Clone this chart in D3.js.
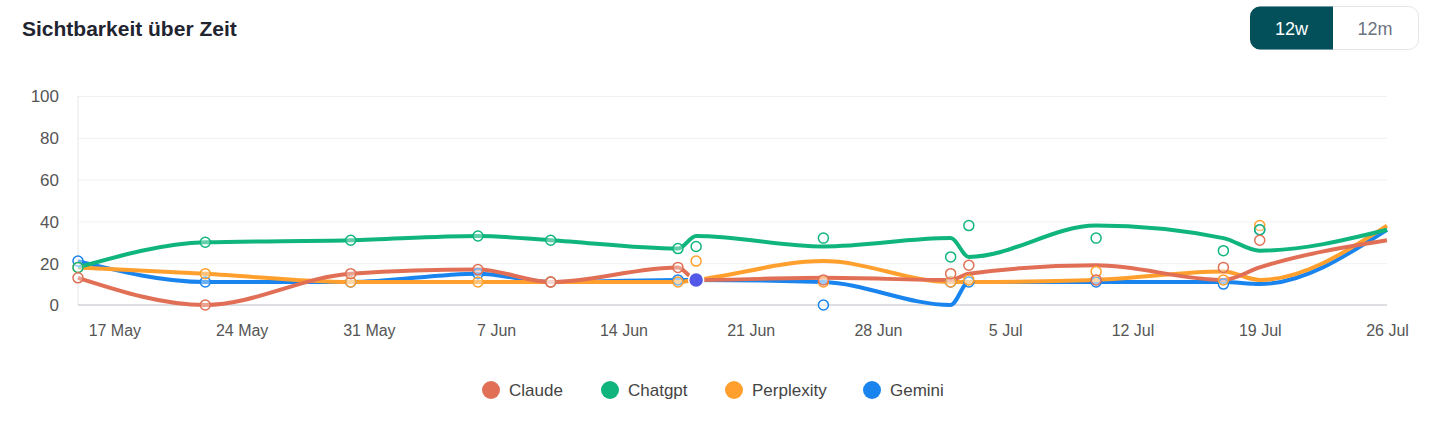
<!DOCTYPE html>
<html><head><meta charset="utf-8">
<script src="https://cdn.jsdelivr.net/npm/d3@7"></script>
<style>
body{margin:0;background:#fff;font-family:"Helvetica Neue",Arial,"Liberation Sans",sans-serif;}
</style></head>
<body><svg id="chart" width="1438" height="428"></svg>
<script>
const dates = ["2024-05-15","2024-05-22","2024-05-30","2024-06-06","2024-06-10","2024-06-17","2024-06-18","2024-06-25","2024-07-02","2024-07-03","2024-07-10","2024-07-17","2024-07-19","2024-07-26"];
const claude     = [13, 0, 15, 17, 11, 18, 12, 13, 12, 15, 19, 12, 18, 31];
const chatgpt    = [18, 30, 31, 33, 31, 27, 33, 28, 32, 23, 38, 32, 26, 36];
const perplexity = [18, 15, 11, 11, 11, 11, 12, 21, 11, 11, 12, 16, 12, 38];
const gemini     = [21, 11, 11, 15, 11, 12, 12, 11, 0, 11, 11, 11, 10, 36];
const yTicks = [0, 20, 40, 60, 80, 100];
const xTickDates = ["2024-05-17","2024-05-24","2024-05-31","2024-06-07","2024-06-14","2024-06-21","2024-06-28","2024-07-05","2024-07-12","2024-07-19","2024-07-26"];
const seriesNames = ["Claude", "Chatgpt", "Perplexity", "Gemini"];
const seriesColors = ["#e06f55", "#0fb57c", "#ffa02e", "#1a84ee"];
const seriesValues = [claude, chatgpt, perplexity, gemini];
const hoverIndex = 6;

const parse = d3.timeParse("%Y-%m-%d");
const svg = d3.select("#chart");

// header
svg.append("text").attr("x", 22).attr("y", 36)
  .attr("font-size", 21).attr("font-weight", 700).attr("fill", "#1f2430")
  .text("Sichtbarkeit über Zeit");
const btn = svg.append("g");
btn.append("rect").attr("x", 1250.5).attr("y", 6.5).attr("width", 168).attr("height", 43)
  .attr("rx", 10).attr("fill", "#fff").attr("stroke", "#e3e5e8");
btn.append("path").attr("d", "M1260,6.5 h73 v43 h-73 a10,10 0 0 1 -10,-10 v-23 a10,10 0 0 1 10,-10z")
  .attr("fill", "#04505a");
btn.append("text").attr("x", 1291.5).attr("y", 35).attr("text-anchor", "middle")
  .attr("font-size", 18).attr("fill", "#fff").text("12w");
btn.append("text").attr("x", 1375).attr("y", 35).attr("text-anchor", "middle")
  .attr("font-size", 18).attr("fill", "#6b7280").text("12m");

const x = d3.scaleTime().domain([parse(dates[0]), parse(dates[dates.length - 1])]).range([78, 1387]);
const y = d3.scaleLinear().domain([0, 100]).range([305, 96]);

// grid
svg.append("g").attr("transform", "translate(78,0)")
  .call(d3.axisLeft(y).tickValues(yTicks).tickSize(-1309).tickFormat(""))
  .call(g => g.select(".domain").remove())
  .call(g => g.selectAll("line").attr("stroke", "#f0f1f3"));
// y labels
svg.append("g").attr("transform", "translate(62,0)")
  .call(d3.axisLeft(y).tickValues(yTicks).tickSize(0))
  .call(g => g.select(".domain").remove())
  .call(g => g.selectAll("text").attr("font-size", 17).attr("fill", "#555").attr("dx", 0).attr("dy", "0.35em")
    .attr("font-family", "Helvetica Neue, Arial, Liberation Sans, sans-serif"));
svg.append("line").attr("x1", 78).attr("x2", 78).attr("y1", 96).attr("y2", 305).attr("stroke", "#e5e7eb");
// x axis
svg.append("g").attr("transform", "translate(0,305)")
  .call(d3.axisBottom(x).tickValues(xTickDates.map(parse)).tickFormat(d3.timeFormat("%-d %b")).tickSize(0))
  .call(g => g.select(".domain").attr("stroke", "#d4d6da").attr("stroke-width", 1.5).attr("d", "M78,0H1387"))
  .call(g => g.selectAll("text").attr("font-size", 16).attr("fill", "#555").attr("dy", "1.75em")
    .attr("font-family", "Helvetica Neue, Arial, Liberation Sans, sans-serif"));

const line = d3.line().curve(d3.curveMonotoneX).x((d, i) => x(parse(dates[i]))).y(d => y(d));
const order = [3, 2, 1, 0];
order.forEach(s => {
  svg.append("path").attr("d", line(seriesValues[s])).attr("fill", "none")
    .attr("stroke", seriesColors[s]).attr("stroke-width", 4).attr("stroke-linejoin", "round");
});
order.forEach(s => {
  svg.append("g").selectAll("circle").data(seriesValues[s]).join("circle")
    .filter((d, i) => i !== hoverIndex)
    .attr("cx", (d, i) => x(parse(dates[i]))).attr("cy", d => y(d)).attr("r", 5)
    .attr("fill", "rgba(255,255,255,0.35)").attr("stroke", seriesColors[s]).attr("stroke-width", 1.5);
});
svg.append("circle").attr("cx", x(parse(dates[hoverIndex]))).attr("cy", y(gemini[hoverIndex]))
  .attr("r", 7.5).attr("fill", "#5458e8").attr("stroke", "#fff").attr("stroke-width", 1.5);

// legend
const legendX = [491, 610, 734, 872];
const leg = svg.append("g");
seriesNames.forEach((n, i) => {
  leg.append("circle").attr("cx", legendX[i]).attr("cy", 390).attr("r", 9).attr("fill", seriesColors[i]);
  leg.append("text").attr("x", legendX[i] + 18).attr("y", 396).attr("font-size", 17).attr("fill", "#444").text(n);
});
</script>
</body></html>
